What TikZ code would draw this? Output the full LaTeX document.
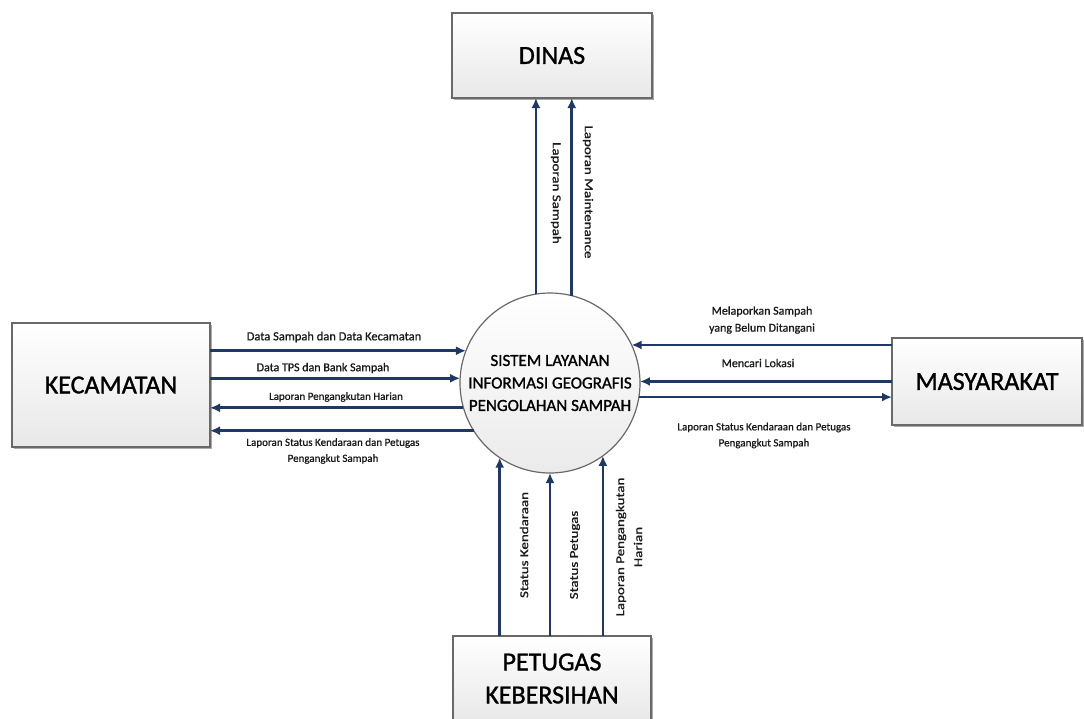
\documentclass[tikz,border=0pt]{standalone}
\usepackage{fontspec}
\setmainfont{Carlito}
\newfontfamily\heavyfont[FakeBold=1.2]{Carlito}
\newfontfamily\midfont[FakeBold=0.8]{Carlito}
\usetikzlibrary{arrows.meta,shadows}
\definecolor{flow}{RGB}{31,56,100}
\definecolor{boxline}{RGB}{105,105,105}
\begin{document}
\begin{tikzpicture}[x=1pt,y=-1pt,
  entity/.style={draw=boxline, line width=1.3pt, top color=white, bottom color=black!9,
    drop shadow={shadow xshift=1.5pt,shadow yshift=-1.5pt,fill=black!65},
    inner sep=0pt, outer sep=0pt, align=center, font=\heavyfont\fontsize{26}{33}\selectfont},
  proc/.style={circle, draw=boxline, line width=1.2pt, top color=white, bottom color=black!8,
    minimum size=180pt, inner sep=0pt, outer sep=0pt, align=center,
    font=\heavyfont\fontsize{17}{22.5}\selectfont},
  flowline/.style={draw=flow, line width=2.8pt, -{Latex[length=10pt,width=9pt]}},
  lbl/.style={font=\midfont\fontsize{12}{17}\selectfont, align=center, inner sep=0pt, text=black!90},
  vlbl/.style={lbl, font=\midfont\fontsize{12}{18}\selectfont}
]
\path[use as bounding box] (0,0) rectangle (1084,718);
\clip (0,0) rectangle (1084,718);
\fill[white] (0,0) rectangle (1084,718);

% entities
\node[entity, minimum width=200pt, minimum height=85pt] (dinas) at (552,55.5) {DINAS};
\node[entity, minimum width=198pt, minimum height=124pt] (kec) at (111,385) {KECAMATAN};
\node[entity, minimum width=190pt, minimum height=87pt] (mas) at (987,381.5) {MASYARAKAT};
\node[entity, minimum width=198pt, minimum height=85pt] (pet) at (552,678.5) {PETUGAS\\KEBERSIHAN};

% process
\node[proc] (sys) at (550,383) {SISTEM LAYANAN\\INFORMASI GEOGRAFIS\\PENGOLAHAN SAMPAH};

% flows to DINAS
\draw[flowline] (sys.99.59) -- (sys.99.59 |- dinas.south);
\draw[flowline] (sys.76.5) -- (sys.76.5 |- dinas.south);
\node[vlbl, rotate=-90, xscale=1.25] (lsampah) at (556,193) {Laporan Sampah};
\node[vlbl, rotate=-90, xscale=1.25] (lmaint) at (588,192) {Laporan Maintenance};

% flows with KECAMATAN
\draw[flowline] (kec.east |- sys.159.85) -- (sys.159.85);
\draw[flowline] (kec.east |- sys.177.45) -- (sys.177.45);
\draw[flowline] (sys.196.79) -- (kec.east |- sys.196.79);
\draw[flowline] (sys.212.23) -- (kec.east |- sys.212.23);
\node[lbl, font=\midfont\fontsize{12.5}{17}\selectfont] (k1) at (334,337) {Data Sampah dan Data Kecamatan};
\node[lbl] (k2) at (323,368) {Data TPS dan Bank Sampah};
\node[lbl, font=\midfont\fontsize{11}{17}\selectfont] (k3) at (336,397) {Laporan Pengangkutan Harian};
\node[lbl, font=\midfont\fontsize{11}{16}\selectfont] (k4) at (333,451) {Laporan Status Kendaraan dan Petugas\\Pengangkut Sampah};

% flows with MASYARAKAT
\draw[flowline] (mas.west |- sys.25.68) -- (sys.25.68);
\draw[flowline] (mas.west |- sys.1.91) -- (sys.1.91);
\draw[flowline] (sys.351.05) -- (mas.west |- sys.351.05);
\node[lbl] (m1) at (762,320) {Melaporkan Sampah\\yang Belum Ditangani};
\node[lbl] (m2) at (758,363) {Mencari Lokasi};
\node[lbl, font=\midfont\fontsize{11}{16}\selectfont] (m3) at (764,435.5) {Laporan Status Kendaraan dan Petugas\\Pengangkut Sampah};

% flows from PETUGAS
\draw[flowline] (pet.north -| sys.236.25) -- (sys.236.25);
\draw[flowline] (pet.north -| sys.270.64) -- (sys.270.64);
\draw[flowline] (pet.north -| sys.306.87) -- (sys.306.87);
\node[vlbl, rotate=90, xscale=1.25] (p1) at (524,545) {Status Kendaraan};
\node[vlbl, rotate=90, xscale=1.25] (p2) at (575,555) {Status Petugas};
\node[vlbl, rotate=90, xscale=1.25] (p3) at (629,547) {Laporan Pengangkutan\\Harian};
\end{tikzpicture}
\end{document}
